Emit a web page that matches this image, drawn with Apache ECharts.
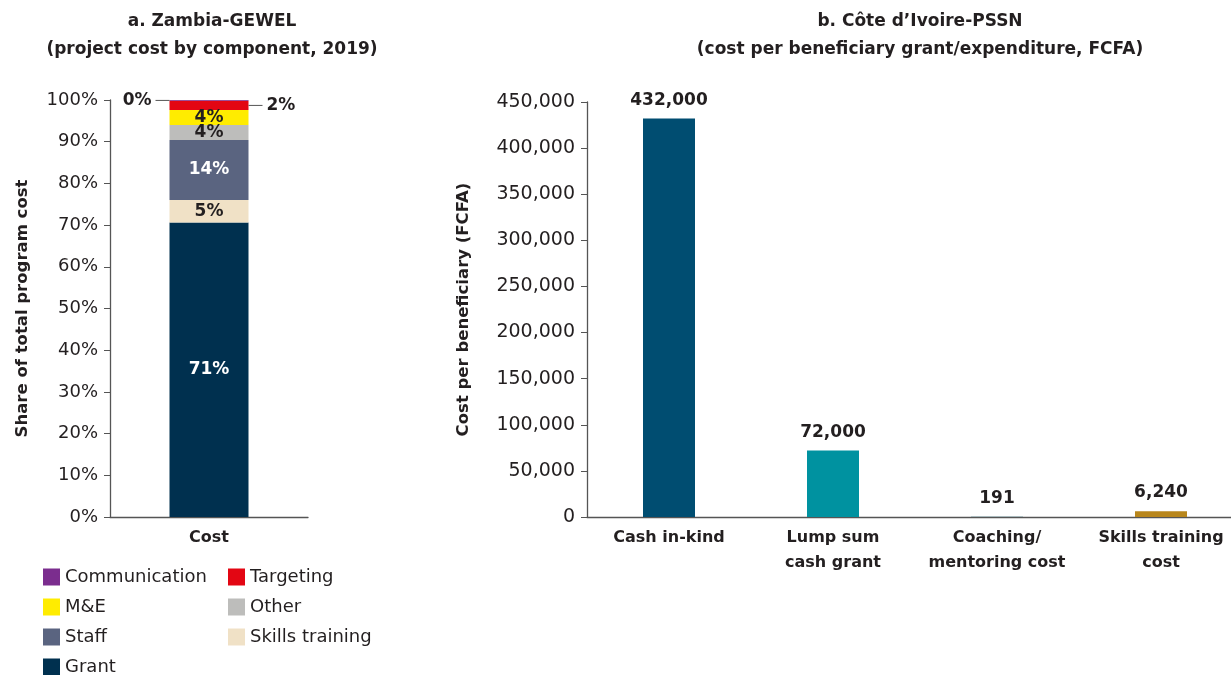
<!DOCTYPE html>
<html>
<head>
<meta charset="utf-8">
<script src="https://cdn.jsdelivr.net/npm/echarts@6/dist/echarts.min.js"></script>
<style>
html,body{margin:0;padding:0;background:#fff;}
#chart{width:1231px;height:675px;}
</style>
</head>
<body>
<div id="chart"></div>
<script>
// Panel a: Zambia-GEWEL
const shareCategories = ['Cost'];
const componentNames = ['Grant', 'Skills training', 'Staff', 'Other', 'M&E', 'Targeting', 'Communication'];
const componentShares = [70.6, 5.4, 14.4, 3.6, 3.6, 2.2, 0.2];
const shareTicks = [0, 10, 20, 30, 40, 50, 60, 70, 80, 90, 100];

// Panel b: Côte d'Ivoire-PSSN
const cdiCategories = ['Cash in-kind', 'Lump sum\ncash grant', 'Coaching/\nmentoring cost', 'Skills training\ncost'];
const cdiValues = [432000, 72000, 191, 6240];

const FONT = '"DejaVu Sans", "Open Sans", sans-serif';
const TXT = '#231f20';
const componentColors = {
  'Grant': '#00304f',
  'Skills training': '#f0e1c6',
  'Staff': '#5a6480',
  'Other': '#bdbdbb',
  'M&E': '#ffec00',
  'Targeting': '#e30613',
  'Communication': '#7b2d8e'
};
const labelColors = {
  'Grant': '#ffffff', 'Skills training': TXT, 'Staff': '#ffffff', 'Other': TXT, 'M&E': TXT
};
const cdiColors = ['#004d71', '#0092a0', '#2a6a73', '#b8861b'];

const fmt = v => Math.round(v).toLocaleString('en-US');

const stackSeries = componentNames.map((name, i) => {
  const s = {
    name: name,
    type: 'bar',
    stack: 'total',
    xAxisIndex: 0, yAxisIndex: 0,
    barWidth: 79,
    itemStyle: { color: componentColors[name] },
    data: [componentShares[i]],
    label: {
      show: true,
      position: 'inside',
      formatter: p => Math.round(p.value) + '%',
      color: labelColors[name] || TXT,
      fontFamily: FONT, fontWeight: 'bold', fontSize: 17
    }
  };
  if (name === 'Communication') {
    s.label = {
      show: true, position: 'left', distance: 0,
      formatter: p => '{t|' + Math.round(p.value) + '%}{l|}',
      rich: {
        t: { color: TXT, fontFamily: FONT, fontWeight: 'bold', fontSize: 17, padding: [0, 4, 0, 0] },
        l: { width: 14, height: 1, backgroundColor: '#555' }
      }
    };
  }
  if (name === 'Targeting') {
    s.label = {
      show: true, position: 'right', distance: 0,
      formatter: p => '{l|}{t|' + Math.round(p.value) + '%}',
      rich: {
        t: { color: TXT, fontFamily: FONT, fontWeight: 'bold', fontSize: 17, padding: [0, 0, 0, 4] },
        l: { width: 14, height: 1, backgroundColor: '#555' }
      }
    };
  }
  return s;
});

const chart = echarts.init(document.getElementById('chart'));
const legendText = { color: TXT, fontFamily: FONT, fontSize: 18 };

chart.setOption({
  animation: false,
  backgroundColor: '#fff',
  title: [
    {
      text: 'a. Zambia-GEWEL\n(project cost by component, 2019)',
      left: 207, top: 3, textAlign: 'center',
      textStyle: { color: TXT, fontFamily: FONT, fontWeight: 'bold', fontSize: 17, lineHeight: 28, align: 'center' }
    },
    {
      text: 'b. Côte d\u2019Ivoire-PSSN\n(cost per beneficiary grant/expenditure, FCFA)',
      left: 915, top: 3, textAlign: 'center',
      textStyle: { color: TXT, fontFamily: FONT, fontWeight: 'bold', fontSize: 17, lineHeight: 28, align: 'center' }
    }
  ],
  legend: [
    {
      left: 43, top: 568, height: 140, padding: 0, orient: 'vertical', itemGap: 12,
      itemWidth: 17, itemHeight: 17, icon: 'rect',
      data: ['Communication', 'M&E', 'Staff', 'Grant'],
      textStyle: legendText, selectedMode: false
    },
    {
      left: 228, top: 568, height: 140, padding: 0, orient: 'vertical', itemGap: 12,
      itemWidth: 17, itemHeight: 17, icon: 'rect',
      data: ['Targeting', 'Other', 'Skills training'],
      textStyle: legendText, selectedMode: false
    }
  ],
  grid: [
    { left: 110, top: 100, width: 198, bottom: 158, outerBoundsMode: 'none' },
    { left: 587, top: 102, width: 656, bottom: 158, outerBoundsMode: 'none' }
  ],
  xAxis: [
    {
      gridIndex: 0, type: 'category', data: shareCategories,
      axisLine: { lineStyle: { color: '#555', width: 1.3 } },
      axisTick: { show: false },
      axisLabel: { color: TXT, fontFamily: FONT, fontSize: 16, fontWeight: 'bold', margin: 13 }
    },
    {
      gridIndex: 1, type: 'category', data: cdiCategories,
      axisLine: { lineStyle: { color: '#555', width: 1.3 } },
      axisTick: { show: false },
      axisLabel: { color: TXT, fontFamily: FONT, fontSize: 16, fontWeight: 'bold', margin: 8, lineHeight: 25, interval: 0 }
    }
  ],
  yAxis: [
    {
      gridIndex: 0, type: 'value', min: shareTicks[0], max: shareTicks[shareTicks.length - 1], interval: 10,
      name: 'Share of total program cost', nameLocation: 'middle', nameGap: 79,
      nameTextStyle: { color: TXT, fontFamily: FONT, fontSize: 16.5, fontWeight: 'bold' },
      axisLine: { show: true, lineStyle: { color: '#555', width: 1.3 } },
      axisTick: { show: true, length: 6, lineStyle: { color: '#555' } },
      splitLine: { show: false },
      axisLabel: { formatter: '{value}%', margin: 12, color: TXT, fontFamily: FONT, fontSize: 18 }
    },
    {
      gridIndex: 1, type: 'value', min: 0, max: 450000, interval: 50000,
      name: 'Cost per beneficiary (FCFA)', nameLocation: 'middle', nameGap: 115,
      nameTextStyle: { color: TXT, fontFamily: FONT, fontSize: 16.5, fontWeight: 'bold' },
      axisLine: { show: true, lineStyle: { color: '#555', width: 1.3 } },
      axisTick: { show: true, length: 6, lineStyle: { color: '#555' } },
      splitLine: { show: false },
      axisLabel: { formatter: v => fmt(v), margin: 12, color: TXT, fontFamily: FONT, fontSize: 19 }
    }
  ],
  series: stackSeries.concat([
    {
      name: 'cdi', type: 'bar', xAxisIndex: 1, yAxisIndex: 1,
      barWidth: 52,
      data: cdiValues.map((v, i) => ({ value: v, itemStyle: { color: cdiColors[i] } })),
      label: {
        show: true, position: 'top', distance: 10,
        formatter: p => fmt(p.value),
        color: TXT, fontFamily: FONT, fontWeight: 'bold', fontSize: 17
      }
    }
  ])
});
</script>
</body>
</html>
